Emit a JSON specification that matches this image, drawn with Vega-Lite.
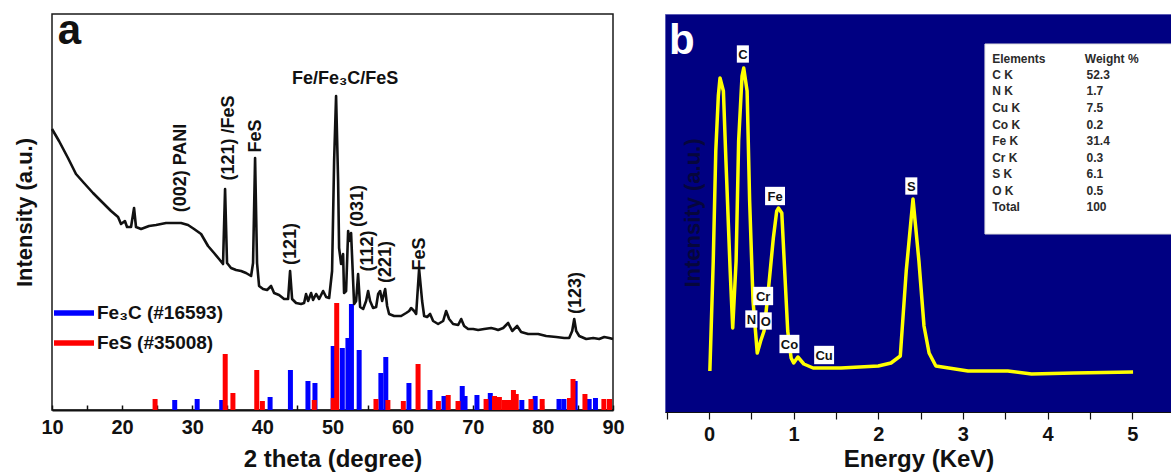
{
  "$schema": "https://vega.github.io/schema/vega-lite/v6.json",
  "padding": {"left": 12, "top": 9, "right": 0, "bottom": 0},
  "background": "white",
  "config": {"font": "Liberation Sans", "view": {"stroke": null}},
  "spacing": 52,
  "bounds": "flush",
  "hconcat": [
    {
      "width": 561,
      "height": 396,
      "view": {"stroke": "#1a1a1a", "strokeWidth": 1.5},
      "encoding": {
        "x": {"field": "x", "type": "quantitative", "scale": {"domain": [10, 90], "nice": false, "zero": false, "padding": 0},
          "axis": {"title": "2 theta (degree)", "values": [10,15,20,25,30,35,40,45,50,55,60,65,70,75,80,85,90],
            "labelExpr": "datum.value % 10 === 0 ? datum.label : ''", "grid": false, "tickSize": -5, "tickColor": "#111", "tickWidth": 1.5,
            "domainColor": "#111", "domainWidth": 2, "labelFontSize": 20, "labelFontWeight": "bold", "labelColor": "#111",
            "labelPadding": 12, "labelFlush": false, "labelOverlap": false, "titleFontSize": 24, "titleFontWeight": "bold", "titleColor": "#111", "titlePadding": 10}},
        "y": {"field": "y", "type": "quantitative", "stack": null, "scale": {"domain": [0, 396], "nice": false},
          "axis": {"title": "Intensity (a.u.)", "labels": false, "ticks": false, "domain": false, "grid": false,
            "titleFontSize": 22, "titleFontWeight": "bold", "titleColor": "#111", "titlePadding": 16}}
      },
      "layer": [
        {
          "data": {"values": [
            {"x": 27.5, "y": 10, "phase": "Fe₃C (#16593)"}, {"x": 30.7, "y": 11, "phase": "Fe₃C (#16593)"}, {"x": 34.2, "y": 10, "phase": "Fe₃C (#16593)"},
            {"x": 41.1, "y": 13, "phase": "Fe₃C (#16593)"}, {"x": 44.0, "y": 40, "phase": "Fe₃C (#16593)"}, {"x": 46.5, "y": 29, "phase": "Fe₃C (#16593)"},
            {"x": 47.5, "y": 27, "phase": "Fe₃C (#16593)"}, {"x": 50.1, "y": 64, "phase": "Fe₃C (#16593)"}, {"x": 51.4, "y": 62, "phase": "Fe₃C (#16593)"},
            {"x": 52.2, "y": 72, "phase": "Fe₃C (#16593)"}, {"x": 52.7, "y": 106, "phase": "Fe₃C (#16593)"}, {"x": 53.8, "y": 60, "phase": "Fe₃C (#16593)"},
            {"x": 56.9, "y": 37, "phase": "Fe₃C (#16593)"}, {"x": 57.6, "y": 53, "phase": "Fe₃C (#16593)"}, {"x": 60.9, "y": 27, "phase": "Fe₃C (#16593)"},
            {"x": 63.9, "y": 20, "phase": "Fe₃C (#16593)"}, {"x": 65.9, "y": 14, "phase": "Fe₃C (#16593)"}, {"x": 68.5, "y": 24, "phase": "Fe₃C (#16593)"},
            {"x": 68.9, "y": 14, "phase": "Fe₃C (#16593)"}, {"x": 70.6, "y": 15, "phase": "Fe₃C (#16593)"}, {"x": 72.5, "y": 17, "phase": "Fe₃C (#16593)"},
            {"x": 77.0, "y": 10, "phase": "Fe₃C (#16593)"}, {"x": 78.9, "y": 14, "phase": "Fe₃C (#16593)"}, {"x": 82.3, "y": 11, "phase": "Fe₃C (#16593)"},
            {"x": 83.0, "y": 11, "phase": "Fe₃C (#16593)"}, {"x": 84.6, "y": 29, "phase": "Fe₃C (#16593)"}, {"x": 86.6, "y": 11, "phase": "Fe₃C (#16593)"},
            {"x": 87.5, "y": 12, "phase": "Fe₃C (#16593)"},
            {"x": 24.7, "y": 11, "phase": "FeS (#35008)"}, {"x": 34.7, "y": 56, "phase": "FeS (#35008)"}, {"x": 35.8, "y": 17, "phase": "FeS (#35008)"},
            {"x": 39.2, "y": 40, "phase": "FeS (#35008)"}, {"x": 40.0, "y": 9, "phase": "FeS (#35008)"}, {"x": 47.4, "y": 10, "phase": "FeS (#35008)"},
            {"x": 50.1, "y": 12, "phase": "FeS (#35008)"}, {"x": 50.6, "y": 107, "phase": "FeS (#35008)"}, {"x": 56.2, "y": 11, "phase": "FeS (#35008)"},
            {"x": 57.9, "y": 10, "phase": "FeS (#35008)"}, {"x": 60.1, "y": 9, "phase": "FeS (#35008)"}, {"x": 62.2, "y": 46, "phase": "FeS (#35008)"},
            {"x": 65.1, "y": 9, "phase": "FeS (#35008)"}, {"x": 66.5, "y": 15, "phase": "FeS (#35008)"}, {"x": 67.9, "y": 9, "phase": "FeS (#35008)"},
            {"x": 71.9, "y": 11, "phase": "FeS (#35008)"}, {"x": 73.1, "y": 14, "phase": "FeS (#35008)"}, {"x": 73.8, "y": 13, "phase": "FeS (#35008)"},
            {"x": 74.5, "y": 10, "phase": "FeS (#35008)"}, {"x": 75.1, "y": 10, "phase": "FeS (#35008)"}, {"x": 75.8, "y": 20, "phase": "FeS (#35008)"},
            {"x": 76.2, "y": 16, "phase": "FeS (#35008)"}, {"x": 78.3, "y": 11, "phase": "FeS (#35008)"}, {"x": 79.9, "y": 11, "phase": "FeS (#35008)"},
            {"x": 83.8, "y": 12, "phase": "FeS (#35008)"}, {"x": 84.3, "y": 31, "phase": "FeS (#35008)"}, {"x": 86.0, "y": 16, "phase": "FeS (#35008)"},
            {"x": 88.7, "y": 11, "phase": "FeS (#35008)"}, {"x": 89.5, "y": 11, "phase": "FeS (#35008)"}
          ]},
          "mark": {"type": "bar", "size": 5, "orient": "vertical", "opacity": 1},
          "encoding": {
            "color": {"field": "phase", "type": "nominal",
              "scale": {"domain": ["Fe₃C (#16593)", "FeS (#35008)"], "range": ["#0000ff", "#ff0000"]},
              "legend": {"title": null, "orient": "none", "legendX": 2, "legendY": 279, "padding": 0,
                "symbolType": "M-1,-0.14H1V0.14H-1Z", "symbolSize": 1600, "symbolStrokeWidth": 0, "symbolOpacity": 1,
                "labelFontSize": 19, "labelFontWeight": "bold", "labelColor": "#111", "labelOffset": 3, "rowPadding": -16}}
          }
        },
        {
          "data": {"values": [
            {"x": 10.0, "y": 281}, {"x": 11.0, "y": 269}, {"x": 12.28, "y": 252}, {"x": 13.42, "y": 236}, {"x": 14.56, "y": 227},
            {"x": 15.85, "y": 217}, {"x": 16.99, "y": 209}, {"x": 18.42, "y": 199}, {"x": 19.42, "y": 193}, {"x": 19.84, "y": 186},
            {"x": 20.4, "y": 189}, {"x": 20.7, "y": 183}, {"x": 21.27, "y": 183}, {"x": 21.7, "y": 202}, {"x": 21.98, "y": 183},
            {"x": 22.7, "y": 181}, {"x": 23.84, "y": 184}, {"x": 24.84, "y": 185}, {"x": 26.26, "y": 187}, {"x": 27.4, "y": 187},
            {"x": 28.4, "y": 187}, {"x": 29.4, "y": 185}, {"x": 30.26, "y": 181}, {"x": 31.26, "y": 176}, {"x": 32.25, "y": 164},
            {"x": 33.11, "y": 157}, {"x": 33.82, "y": 151}, {"x": 34.39, "y": 146}, {"x": 34.68, "y": 221}, {"x": 34.96, "y": 147},
            {"x": 35.53, "y": 142}, {"x": 36.25, "y": 140}, {"x": 36.96, "y": 139}, {"x": 37.67, "y": 137}, {"x": 38.39, "y": 134},
            {"x": 38.67, "y": 147}, {"x": 38.96, "y": 252}, {"x": 39.24, "y": 147}, {"x": 39.53, "y": 124}, {"x": 40.1, "y": 121},
            {"x": 40.67, "y": 120}, {"x": 41.24, "y": 124}, {"x": 41.67, "y": 117}, {"x": 42.38, "y": 115}, {"x": 43.1, "y": 111},
            {"x": 43.67, "y": 111}, {"x": 43.95, "y": 139}, {"x": 44.24, "y": 111}, {"x": 44.81, "y": 107}, {"x": 45.52, "y": 106},
            {"x": 45.95, "y": 107}, {"x": 46.23, "y": 116}, {"x": 46.52, "y": 109}, {"x": 46.95, "y": 117}, {"x": 47.23, "y": 110},
            {"x": 47.66, "y": 116}, {"x": 48.09, "y": 111}, {"x": 48.66, "y": 119}, {"x": 49.09, "y": 113}, {"x": 49.52, "y": 112},
            {"x": 49.94, "y": 139}, {"x": 50.23, "y": 249}, {"x": 50.51, "y": 314}, {"x": 50.8, "y": 229}, {"x": 50.94, "y": 162},
            {"x": 51.23, "y": 146}, {"x": 51.51, "y": 156}, {"x": 51.65, "y": 117}, {"x": 51.94, "y": 119}, {"x": 52.23, "y": 179},
            {"x": 52.37, "y": 169}, {"x": 52.65, "y": 177}, {"x": 52.94, "y": 129}, {"x": 53.08, "y": 106}, {"x": 53.37, "y": 109},
            {"x": 53.65, "y": 136}, {"x": 53.94, "y": 103}, {"x": 54.37, "y": 101}, {"x": 54.79, "y": 109}, {"x": 55.08, "y": 119},
            {"x": 55.36, "y": 109}, {"x": 55.79, "y": 102}, {"x": 56.22, "y": 103}, {"x": 56.51, "y": 116}, {"x": 56.79, "y": 119},
            {"x": 57.08, "y": 109}, {"x": 57.51, "y": 121}, {"x": 57.79, "y": 104}, {"x": 58.07, "y": 96}, {"x": 58.79, "y": 94},
            {"x": 59.79, "y": 94}, {"x": 60.5, "y": 97}, {"x": 60.93, "y": 99}, {"x": 61.21, "y": 102}, {"x": 61.64, "y": 99},
            {"x": 61.93, "y": 96}, {"x": 62.35, "y": 141}, {"x": 62.78, "y": 109}, {"x": 63.07, "y": 94}, {"x": 63.49, "y": 93},
            {"x": 63.92, "y": 96}, {"x": 64.35, "y": 89}, {"x": 65.06, "y": 86}, {"x": 65.78, "y": 89}, {"x": 66.2, "y": 99},
            {"x": 66.63, "y": 91}, {"x": 67.2, "y": 86}, {"x": 67.92, "y": 85}, {"x": 68.35, "y": 91}, {"x": 68.77, "y": 84},
            {"x": 69.34, "y": 81}, {"x": 70.06, "y": 81}, {"x": 70.77, "y": 80}, {"x": 71.63, "y": 81}, {"x": 72.62, "y": 82},
            {"x": 73.2, "y": 81}, {"x": 73.62, "y": 80}, {"x": 74.34, "y": 82}, {"x": 75.05, "y": 87}, {"x": 75.63, "y": 79},
            {"x": 76.33, "y": 84}, {"x": 76.9, "y": 78}, {"x": 77.9, "y": 76}, {"x": 79.33, "y": 76}, {"x": 80.47, "y": 74},
            {"x": 81.9, "y": 73}, {"x": 83.04, "y": 72}, {"x": 83.75, "y": 72}, {"x": 84.18, "y": 79}, {"x": 84.47, "y": 91},
            {"x": 84.75, "y": 79}, {"x": 85.18, "y": 74}, {"x": 86.18, "y": 71}, {"x": 87.18, "y": 72}, {"x": 88.03, "y": 71},
            {"x": 88.75, "y": 73}, {"x": 89.46, "y": 72}, {"x": 90.0, "y": 71}
          ]},
          "mark": {"type": "line", "color": "#111", "strokeWidth": 2.6, "strokeJoin": "round"},
          "encoding": {}
        },
        {
          "data": {"values": [
            {"x": 28.4, "y": 242, "label": "(002) PANI"},
            {"x": 35.2, "y": 272, "label": "(121) /FeS"},
            {"x": 39.1, "y": 274, "label": "FeS"},
            {"x": 44.1, "y": 166, "label": "(121)"},
            {"x": 53.7, "y": 204, "label": "(031)"},
            {"x": 55.1, "y": 159, "label": "(112)"},
            {"x": 57.6, "y": 148, "label": "(221)"},
            {"x": 62.5, "y": 156, "label": "FeS"},
            {"x": 84.75, "y": 117, "label": "(123)"}
          ]},
          "mark": {"type": "text", "angle": 270, "align": "center", "baseline": "middle", "fontSize": 18, "fontWeight": "bold", "color": "#111"},
          "encoding": {"text": {"field": "label"}}
        },
        {
          "data": {"values": [{"x": 51.8, "y": 331, "label": "Fe/Fe₃C/FeS"}]},
          "mark": {"type": "text", "align": "center", "baseline": "middle", "fontSize": 18, "fontWeight": "bold", "color": "#111"},
          "encoding": {"text": {"field": "label"}}
        },
        {
          "data": {"values": [{"x": 12.5, "y": 366, "label": "a"}]},
          "mark": {"type": "text", "align": "center", "baseline": "alphabetic", "fontSize": 42, "fontWeight": "bold", "color": "#111"},
          "encoding": {"text": {"field": "label"}}
        }
      ]
    },
    {
      "width": 507,
      "height": 398,
      "view": {"fill": "#000082", "stroke": "#5a5ab4", "strokeWidth": 1},
      "encoding": {
        "x": {"field": "x", "type": "quantitative", "scale": {"domain": [-0.52, 5.47], "nice": false, "zero": false},
          "axis": {"title": "Energy (KeV)", "values": [-0.5,0,0.5,1,1.5,2,2.5,3,3.5,4,4.5,5],
            "labelExpr": "datum.value % 1 === 0 ? '' + datum.value : ''", "grid": false, "tickSize": 7, "tickColor": "#111", "tickWidth": 1.2,
            "domainColor": "#111", "domainWidth": 1, "labelFontSize": 20, "labelFontWeight": "bold", "labelColor": "#111",
            "labelPadding": 5, "labelFlush": false, "labelOverlap": false, "titleFontSize": 24, "titleFontWeight": "bold", "titleColor": "#111", "titlePadding": 3}},
        "y": {"field": "y", "type": "quantitative", "scale": {"domain": [0, 398], "nice": false}, "axis": null}
      },
      "layer": [
        {
          "data": {"values": [{"x": 3.26, "x2": 5.47, "y": 178, "y2": 368}]},
          "mark": {"type": "rect", "fill": "white", "stroke": "#dddddd", "strokeWidth": 1},
          "encoding": {"x2": {"field": "x2"}, "y2": {"field": "y2"}}
        },
        {
          "data": {"values": [
            {"x": 0.01, "y": 41}, {"x": 0.05, "y": 151}, {"x": 0.08, "y": 261}, {"x": 0.11, "y": 316}, {"x": 0.13, "y": 334},
            {"x": 0.17, "y": 321}, {"x": 0.2, "y": 251}, {"x": 0.25, "y": 141}, {"x": 0.28, "y": 84}, {"x": 0.32, "y": 151},
            {"x": 0.35, "y": 271}, {"x": 0.39, "y": 336}, {"x": 0.41, "y": 344}, {"x": 0.45, "y": 321}, {"x": 0.48, "y": 211},
            {"x": 0.52, "y": 111}, {"x": 0.57, "y": 59}, {"x": 0.61, "y": 71}, {"x": 0.65, "y": 81}, {"x": 0.7, "y": 121},
            {"x": 0.76, "y": 174}, {"x": 0.8, "y": 201}, {"x": 0.82, "y": 204}, {"x": 0.86, "y": 199}, {"x": 0.89, "y": 148},
            {"x": 0.93, "y": 81}, {"x": 0.97, "y": 54}, {"x": 1.0, "y": 49}, {"x": 1.05, "y": 55}, {"x": 1.12, "y": 48},
            {"x": 1.23, "y": 44}, {"x": 1.56, "y": 44}, {"x": 2.0, "y": 46}, {"x": 2.15, "y": 49}, {"x": 2.26, "y": 56},
            {"x": 2.33, "y": 141}, {"x": 2.41, "y": 213}, {"x": 2.48, "y": 151}, {"x": 2.54, "y": 86}, {"x": 2.6, "y": 59},
            {"x": 2.68, "y": 46}, {"x": 3.06, "y": 41}, {"x": 3.53, "y": 41}, {"x": 3.81, "y": 38}, {"x": 4.31, "y": 39},
            {"x": 5.01, "y": 40}
          ]},
          "mark": {"type": "line", "color": "#ffff00", "strokeWidth": 3.5, "strokeJoin": "round"},
          "encoding": {}
        },
        {
          "data": {"values": [
            {"x": 0.4, "y": 358, "el": "C"}, {"x": 0.78, "y": 216, "el": "Fe"}, {"x": 2.39, "y": 226, "el": "S"},
            {"x": 0.64, "y": 116, "el": "Cr"}, {"x": 0.5, "y": 93, "el": "N"}, {"x": 0.67, "y": 91, "el": "O"},
            {"x": 0.95, "y": 68, "el": "Co"}, {"x": 1.36, "y": 57, "el": "Cu"}
          ]},
          "layer": [
            {
              "mark": {"type": "point", "filled": true, "fill": "white", "opacity": 1, "strokeWidth": 0, "size": 110},
              "encoding": {"shape": {"condition": {"test": "length(datum.el) > 1", "value": "M-1.9,-1.75H1.9V1.75H-1.9Z"}, "value": "M-1.15,-1.65H1.15V1.65H-1.15Z"}}
            },
            {
              "mark": {"type": "text", "align": "center", "baseline": "middle", "fontSize": 13, "fontWeight": "bold", "color": "#111", "dy": 1},
              "encoding": {"text": {"field": "el"}}
            }
          ]
        },
        {
          "data": {"values": [
            {"x": 3.345, "y": 353, "t": "Elements"}, {"x": 4.44, "y": 353, "t": "Weight %"},
            {"x": 3.345, "y": 337, "t": "C K"}, {"x": 4.46, "y": 337, "t": "52.3"},
            {"x": 3.345, "y": 321, "t": "N K"}, {"x": 4.46, "y": 321, "t": "1.7"},
            {"x": 3.345, "y": 304, "t": "Cu K"}, {"x": 4.46, "y": 304, "t": "7.5"},
            {"x": 3.345, "y": 287, "t": "Co K"}, {"x": 4.46, "y": 287, "t": "0.2"},
            {"x": 3.345, "y": 271, "t": "Fe K"}, {"x": 4.46, "y": 271, "t": "31.4"},
            {"x": 3.345, "y": 254, "t": "Cr K"}, {"x": 4.46, "y": 254, "t": "0.3"},
            {"x": 3.345, "y": 238, "t": "S K"}, {"x": 4.46, "y": 238, "t": "6.1"},
            {"x": 3.345, "y": 221, "t": "O K"}, {"x": 4.46, "y": 221, "t": "0.5"},
            {"x": 3.345, "y": 205, "t": "Total"}, {"x": 4.46, "y": 205, "t": "100"}
          ]},
          "mark": {"type": "text", "align": "left", "baseline": "middle", "fontSize": 12, "fontWeight": "bold", "color": "#2a2a2a"},
          "encoding": {"text": {"field": "t"}}
        },
        {
          "data": {"values": [{"x": -0.19, "y": 199, "label": "Intensity (a.u.)"}]},
          "mark": {"type": "text", "angle": 270, "align": "center", "baseline": "middle", "fontSize": 22, "fontWeight": "bold", "color": "#06063c"},
          "encoding": {"text": {"field": "label"}}
        },
        {
          "data": {"values": [{"x": -0.32, "y": 358, "label": "b"}]},
          "mark": {"type": "text", "align": "center", "baseline": "alphabetic", "fontSize": 42, "fontWeight": "bold", "color": "white"},
          "encoding": {"text": {"field": "label"}}
        }
      ]
    }
  ]
}
